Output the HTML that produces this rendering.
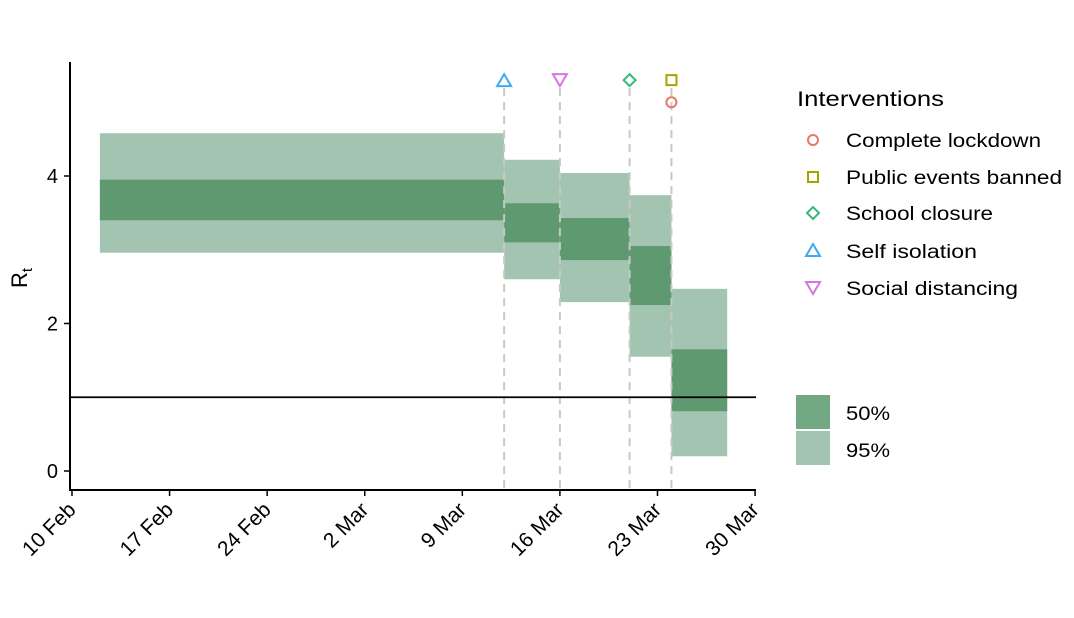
<!DOCTYPE html>
<html><head><meta charset="utf-8"><style>
body{margin:0;background:#fff}
svg text{font-family:"Liberation Sans",Arial,sans-serif}
</style></head><body>
<svg id="chart" width="1074" height="613" viewBox="0 0 1074 613">
<g id="plot"></g>
<g id="legend">
<text x="797" y="106" font-size="21" textLength="147" lengthAdjust="spacingAndGlyphs" fill="#000">Interventions</text>
<circle cx="813" cy="140" r="5" fill="none" stroke="#E8766D" stroke-width="2"/>
<text x="846" y="147" font-size="19" textLength="195" lengthAdjust="spacingAndGlyphs">Complete lockdown</text>
<rect x="808" y="172" width="10" height="10" fill="none" stroke="#A3A500" stroke-width="2"/>
<text x="846" y="184" font-size="19" textLength="216" lengthAdjust="spacingAndGlyphs">Public events banned</text>
<path d="M813 207 L819 213 L813 219 L807 213 Z" fill="none" stroke="#39B87D" stroke-width="2"/>
<text x="846" y="220" font-size="19" textLength="147" lengthAdjust="spacingAndGlyphs">School closure</text>
<path d="M813 244 L820 256 L806 256 Z" fill="none" stroke="#3FA9F5" stroke-width="2"/>
<text x="846" y="258" font-size="19" textLength="131" lengthAdjust="spacingAndGlyphs">Self isolation</text>
<path d="M806 282 L820 282 L813 294 Z" fill="none" stroke="#D873E6" stroke-width="2"/>
<text x="846" y="295" font-size="19" textLength="172" lengthAdjust="spacingAndGlyphs">Social distancing</text>
<rect x="796" y="395" width="34" height="34" fill="#72A884"/>
<text x="846" y="420" font-size="19" textLength="44" lengthAdjust="spacingAndGlyphs">50%</text>
<rect x="796" y="431" width="34" height="34" fill="#A2C4B0"/>
<text x="846" y="457" font-size="19" textLength="44" lengthAdjust="spacingAndGlyphs">95%</text>
</g>
</svg>
<script>
const segStart=[2,31,35,40,43];
const segEnd=[31,35,40,43,47];
const lo95=[2.96,2.60,2.29,1.55,0.20];
const hi95=[4.58,4.22,4.04,3.74,2.47];
const lo50=[3.40,3.10,2.86,2.25,0.81];
const hi50=[3.95,3.63,3.43,3.05,1.65];
const xTickDays=[0,7,14,21,28,35,42,49];
const xTickLabels=["10 Feb","17 Feb","24 Feb","2 Mar","9 Mar","16 Mar","23 Mar","30 Mar"];
const yTicks=[0,2,4];
const intDays=[31,35,40,43,43];
const intY=[5.3,5.3,5.3,5.3,5.0];
const intNames=["self-isolation","social-distancing","school-closure","public-events","lockdown"];
const X=d=>72+d*13.94;
const Y=v=>471-v*73.75;
const NS="http://www.w3.org/2000/svg";
const g=document.getElementById('plot');
function mk(t,a,p){const e=document.createElementNS(NS,t);for(const k in a)e.setAttribute(k,a[k]);(p||g).appendChild(e);return e;}
for(let i=0;i<segStart.length;i++){
 let r=mk('rect',{x:X(segStart[i]),y:Y(hi95[i]),width:X(segEnd[i])-X(segStart[i]),height:Y(lo95[i])-Y(hi95[i]),fill:'#A2C4B0'});
 
 
 let r2=mk('rect',{x:X(segStart[i]),y:Y(hi50[i]),width:X(segEnd[i])-X(segStart[i]),height:Y(lo50[i])-Y(hi50[i]),fill:'#5E9970'});
 
 
}
const seen={};
for(let i=0;i<intDays.length;i++){
 if(!seen[intDays[i]]){seen[intDays[i]]=1;
 let l=mk('line',{x1:X(intDays[i]),x2:X(intDays[i]),y1:Y(5.3)+8,y2:490,stroke:'#c8c8c8','stroke-width':2,'stroke-dasharray':'8,6'});
 
 }
}
let h=mk('line',{x1:70,x2:756,y1:Y(1),y2:Y(1),stroke:'#000','stroke-width':1.8});


const cols={"self-isolation":"#3FA9F5","social-distancing":"#D873E6","school-closure":"#39B87D","public-events":"#A3A500","lockdown":"#E8766D"};
for(let i=0;i<intDays.length;i++){
 const x=X(intDays[i]),y=Y(intY[i]),c=cols[intNames[i]],n=intNames[i];let e;
 const st={fill:'none',stroke:c,'stroke-width':2};
 if(n=="self-isolation")e=mk('path',Object.assign({d:`M${x} ${y-6}L${x+7} ${y+6}L${x-7} ${y+6}Z`},st));
 else if(n=="social-distancing")e=mk('path',Object.assign({d:`M${x-7} ${y-6}L${x+7} ${y-6}L${x} ${y+6}Z`},st));
 else if(n=="school-closure")e=mk('path',Object.assign({d:`M${x} ${y-6}L${x+6} ${y}L${x} ${y+6}L${x-6} ${y}Z`},st));
 else if(n=="public-events")e=mk('rect',Object.assign({x:x-5,y:y-5,width:10,height:10},st));
 else e=mk('circle',Object.assign({cx:x,cy:y,r:5},st));
 
 
}
let ya=mk('line',{x1:70,x2:70,y1:62,y2:491,stroke:'#000','stroke-width':2});


let xa=mk('line',{x1:69,x2:756,y1:490,y2:490,stroke:'#000','stroke-width':2});


yTicks.forEach(v=>{
 mk('line',{x1:64,x2:70,y1:Y(v),y2:Y(v),stroke:'#000','stroke-width':1.5});
 let t=mk('text',{x:58,y:Y(v)+7,'font-size':20,'text-anchor':'end'});t.textContent=v;
 
 
});
xTickDays.forEach((d,i)=>{
 mk('line',{x1:X(d),x2:X(d),y1:490,y2:496,stroke:'#000','stroke-width':1.5});
 let t=mk('text',{x:X(d)+5,y:511,'font-size':21,'text-anchor':'end',transform:`rotate(-45 ${X(d)+5} 511)`});t.textContent=xTickLabels[i];
 
 
});
let yl=mk('text',{x:27,y:288,'font-size':22,transform:'rotate(-90 27 288)'});
yl.innerHTML='R<tspan font-size="15" dy="5">t</tspan>';


</script>
</body></html>
